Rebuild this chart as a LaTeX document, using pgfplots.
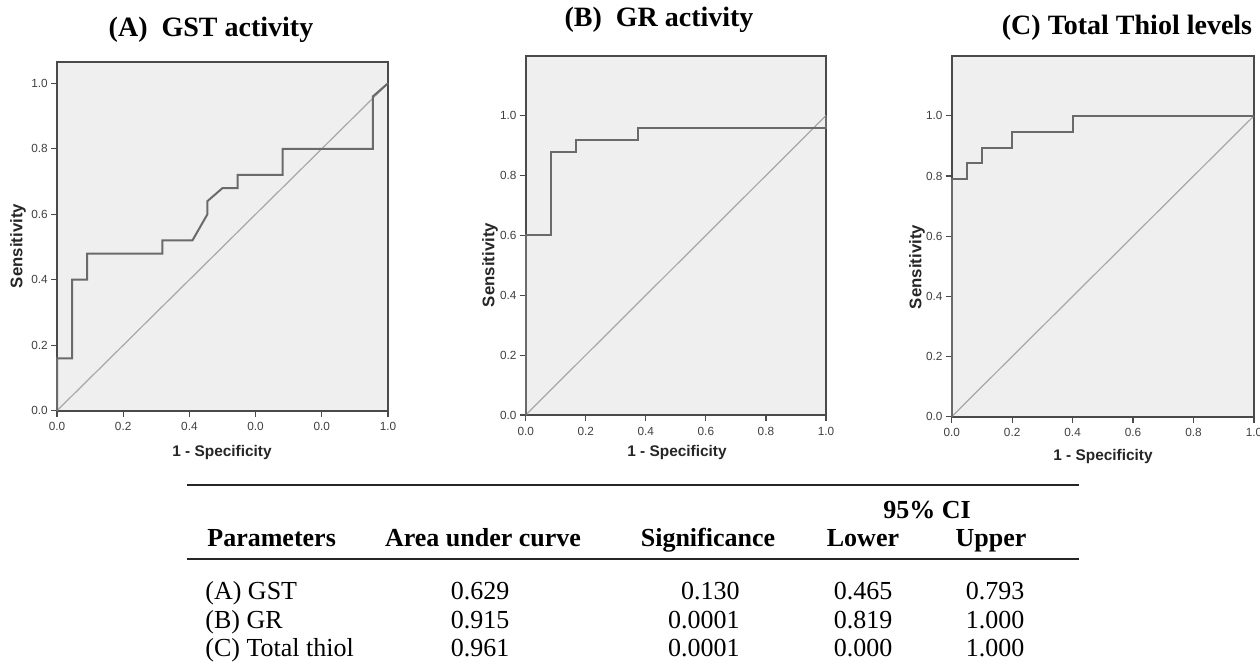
\documentclass[border=0pt]{standalone}
\usepackage{pgfplots}
\pgfplotsset{compat=1.18}
\usepackage{pgfplotstable}
\usepackage{fontspec}
\setmainfont{Liberation Serif}
\newfontfamily\arial{Liberation Sans}

\definecolor{plotbg}{HTML}{EFEFEF}
\definecolor{framec}{HTML}{4A4A4A}
\definecolor{curvec}{HTML}{6A6A6A}
\definecolor{diagc}{HTML}{A8A8A8}

% ROC step curves
\pgfplotstableread{
x y
0 0
0 0.16
0.0455 0.16
0.0455 0.40
0.0909 0.40
0.0909 0.48
0.3182 0.48
0.3182 0.52
0.4091 0.52
0.4545 0.60
0.4545 0.64
0.5000 0.68
0.5455 0.68
0.5455 0.72
0.6818 0.72
0.6818 0.80
0.9545 0.80
0.9545 0.96
1 1
}\rocA
\pgfplotstableread{
x y
0 0
0 0.60
0.0833 0.60
0.0833 0.88
0.1667 0.88
0.1667 0.92
0.375 0.92
0.375 0.96
1 0.96
1 1
}\rocB
\pgfplotstableread{
x y
0 0
0 0.7895
0.05 0.7895
0.05 0.8421
0.1 0.8421
0.1 0.8947
0.2 0.8947
0.2 0.9474
0.4 0.9474
0.4 1
1 1
}\rocC

\pgfplotsset{
  roc/.style={
    scale only axis,
    anchor=south west,
    xmin=0, xmax=1, ymin=0,
    clip=false,
    axis background/.style={fill=plotbg},
    axis line style={framec, line width=0.9pt},
    tick style={framec, line width=0.6pt},
    tick align=outside,
    major tick length=3pt,
    xtick pos=left, ytick pos=left,
    xtick={0,0.2,0.4,0.6,0.8,1},
    ytick={0,0.2,0.4,0.6,0.8,1},
    yticklabels={0.0,0.2,0.4,0.6,0.8,1.0},
    xticklabels={0.0,0.2,0.4,0.6,0.8,1.0},
    ticklabel style={font=\arial\fontsize{5.9}{6}\selectfont, text=black!75},
    xticklabel style={yshift=0.6pt},
    yticklabel style={xshift=1.9pt},
  },
  curve/.style={curvec, line width=1pt, line join=miter},
  diag/.style={diagc, line width=0.6pt},
}

\newcommand{\ylab}{\arial\bfseries\fontsize{8.4}{9}\selectfont}
\newcommand{\xlab}{\arial\bfseries\fontsize{7.7}{8}\selectfont}
\newcommand{\ttl}{\bfseries\fontsize{14}{16}\selectfont}
\newcommand{\tbl}{\fontsize{13}{15}\selectfont}

\begin{document}
\begin{tikzpicture}
\path[use as bounding box, fill=white] (0,0) rectangle (630pt,-334pt);

% (A)
\begin{axis}[roc, at={(28.5pt,-205.35pt)}, width=165.5pt, height=174.35pt, ymax=1.065,
  xticklabels={0.0,0.2,0.4,0.0,0.0,1.0}]
\addplot[diag] coordinates {(0,0) (1,1)};
\addplot[curve] table[x=x,y=y] {\rocA};
\end{axis}

% (B)
\begin{axis}[roc, at={(262.85pt,-207.5pt)}, width=150.15pt, height=179.65pt, ymax=1.2]
\addplot[diag] coordinates {(0,0) (1,1)};
\addplot[curve] table[x=x,y=y] {\rocB};
\end{axis}

% (C)
\begin{axis}[roc, at={(475.85pt,-208.35pt)}, width=151.15pt, height=180.5pt, ymax=1.2]
\addplot[diag] coordinates {(0,0) (1,1)};
\addplot[curve] table[x=x,y=y] {\rocC};
\end{axis}

% titles
\node at (105.5pt,-15pt) {\ttl (A)\ \ GST activity};
\node at (329.5pt,-10pt) {\ttl (B)\ \ GR activity};
\node at (563.5pt,-14pt) {\ttl (C) Total Thiol levels};

% axis labels
\node[rotate=90, text=black!85] at (9pt,-123pt) {\ylab Sensitivity};
\node[rotate=90, text=black!85] at (245pt,-132.5pt) {\ylab Sensitivity};
\node[rotate=90, text=black!85] at (458.5pt,-133.5pt) {\ylab Sensitivity};
\node[text=black!85] at (111pt,-226.5pt) {\xlab 1 - Specificity};
\node[text=black!85] at (338.5pt,-226.5pt) {\xlab 1 - Specificity};
\node[text=black!85] at (551.5pt,-228.5pt) {\xlab 1 - Specificity};

% summary table
\draw[line width=1pt, black!85] (93.5pt,-242.5pt) -- (539.5pt,-242.5pt);
\draw[line width=1pt, black!85] (93.5pt,-279.5pt) -- (539.5pt,-279.5pt);
\node[anchor=base] at (463.5pt,-259.3pt) {\tbl\bfseries 95\% CI};
\node[anchor=base west, inner sep=0pt] at (103.5pt,-273.3pt) {\tbl\bfseries Parameters};
\node[anchor=base] at (241.5pt,-273.3pt) {\tbl\bfseries Area under curve};
\node[anchor=base] at (354pt,-273.3pt) {\tbl\bfseries Significance};
\node[anchor=base] at (431.5pt,-273.3pt) {\tbl\bfseries Lower};
\node[anchor=base] at (495.5pt,-273.3pt) {\tbl\bfseries Upper};

\node[anchor=base west, inner sep=0pt] at (102.5pt,-299.8pt) {\tbl (A) GST};
\node[anchor=base west, inner sep=0pt] at (102.5pt,-314.3pt) {\tbl (B) GR};
\node[anchor=base west, inner sep=0pt] at (102.5pt,-328.3pt) {\tbl (C) Total thiol};

\node[anchor=base] at (240pt,-299.8pt) {\tbl 0.629};
\node[anchor=base] at (240pt,-314.3pt) {\tbl 0.915};
\node[anchor=base] at (240pt,-328.3pt) {\tbl 0.961};

\node[anchor=base east, inner sep=0pt] at (370pt,-299.8pt) {\tbl 0.130};
\node[anchor=base east, inner sep=0pt] at (370pt,-314.3pt) {\tbl 0.0001};
\node[anchor=base east, inner sep=0pt] at (370pt,-328.3pt) {\tbl 0.0001};

\node[anchor=base] at (431.5pt,-299.8pt) {\tbl 0.465};
\node[anchor=base] at (431.5pt,-314.3pt) {\tbl 0.819};
\node[anchor=base] at (431.5pt,-328.3pt) {\tbl 0.000};

\node[anchor=base] at (497.5pt,-299.8pt) {\tbl 0.793};
\node[anchor=base] at (497.5pt,-314.3pt) {\tbl 1.000};
\node[anchor=base] at (497.5pt,-328.3pt) {\tbl 1.000};
\end{tikzpicture}
\end{document}
